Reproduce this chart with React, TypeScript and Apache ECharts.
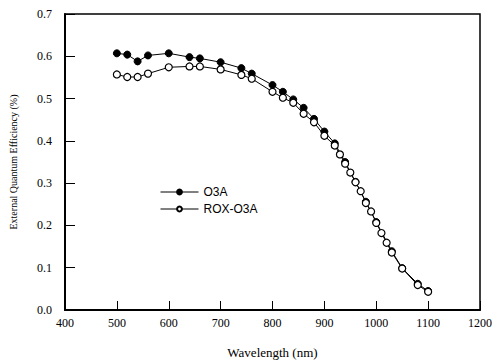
import React, { useEffect, useRef } from "react";
import * as echarts from "echarts";

const o3aX = [500, 520, 540, 560, 600, 640, 660, 700, 740, 760, 800, 820, 840, 860, 880, 900, 920, 940, 960, 980, 1000, 1030, 1050, 1080, 1100];
const o3aY = [0.607, 0.604, 0.588, 0.602, 0.607, 0.598, 0.595, 0.586, 0.572, 0.559, 0.532, 0.516, 0.498, 0.478, 0.452, 0.422, 0.394, 0.350, 0.303, 0.256, 0.208, 0.139, 0.099, 0.062, 0.045];

const roxX = [500, 520, 540, 560, 600, 640, 660, 700, 740, 760, 800, 820, 840, 860, 880, 900, 920, 930, 940, 950, 960, 970, 980, 990, 1000, 1010, 1020, 1030, 1050, 1080, 1100];
const roxY = [0.557, 0.551, 0.551, 0.559, 0.574, 0.576, 0.576, 0.569, 0.556, 0.547, 0.516, 0.502, 0.490, 0.464, 0.444, 0.412, 0.389, 0.368, 0.346, 0.325, 0.302, 0.281, 0.253, 0.233, 0.206, 0.182, 0.159, 0.136, 0.098, 0.059, 0.043];

const xMin = 400, xMax = 1200, xStep = 100;
const yMin = 0, yMax = 0.7, yStep = 0.1;

const xName = "Wavelength (nm)";
const yName = "External Quantum Efficiency (%)";
const seriesNames = ["O3A", "ROX-O3A"];

export default function App() {
  const ref = useRef<HTMLDivElement>(null);
  useEffect(() => {
    if (!ref.current) return;
    const chart = echarts.init(ref.current, undefined, { renderer: "svg" });
    const serif = "'Liberation Serif', 'Times New Roman', serif";
    const sans = "'Liberation Sans', Arial, sans-serif";
    chart.setOption({
      animation: false,
      backgroundColor: "#fff",
      grid: {
        left: 62, top: 14, width: 418, height: 297,
        show: true, borderColor: "#000", borderWidth: 1.5, backgroundColor: "transparent",
      },
      legend: {
        orient: "vertical",
        left: 155, top: 181,
        itemWidth: 38, itemHeight: 6, itemGap: 5,
        lineStyle: { width: 1 },
        textStyle: { fontFamily: sans, fontSize: 12, color: "#000" },
        data: seriesNames,
      },
      xAxis: {
        type: "value", min: xMin, max: xMax, interval: xStep,
        name: xName, nameLocation: "middle", nameGap: 36,
        nameTextStyle: { fontFamily: serif, fontSize: 13, color: "#000" },
        axisLine: { lineStyle: { color: "#000", width: 2 } },
        axisTick: { inside: true, length: 9, lineStyle: { color: "#000", width: 1 } },
        axisLabel: { fontFamily: serif, fontSize: 12, color: "#000", margin: 7, formatter: (v: number) => String(v) },
        splitLine: { show: false },
      },
      yAxis: {
        type: "value", min: yMin, max: yMax, interval: yStep,
        name: yName, nameLocation: "middle", nameGap: 47, nameRotate: 90,
        nameTextStyle: { fontFamily: serif, fontSize: 10, color: "#000" },
        axisLine: { show: true, lineStyle: { color: "#000", width: 2 } },
        axisTick: { inside: true, length: 10, lineStyle: { color: "#000", width: 1 } },
        axisLabel: { fontFamily: serif, fontSize: 12, color: "#000", margin: 13, formatter: (v: number) => v.toFixed(1) },
        splitLine: { show: false },
      },
      series: [
        {
          name: seriesNames[0], type: "line",
          data: o3aX.map((x, i) => [x, o3aY[i]]),
          symbol: "circle", symbolSize: 7,
          lineStyle: { color: "#000", width: 1 },
          itemStyle: { color: "#000", borderColor: "#000", borderWidth: 1 },
          z: 2,
        },
        {
          name: seriesNames[1], type: "line",
          data: roxX.map((x, i) => [x, roxY[i]]),
          symbol: "circle", symbolSize: 7,
          lineStyle: { color: "#000", width: 1 },
          itemStyle: { color: "#fff", borderColor: "#000", borderWidth: 1.2 },
          z: 3,
        },
      ],
    });
    return () => chart.dispose();
  }, []);
  return <div ref={ref} style={{ position: "absolute", left: 0, top: 0, width: 498, height: 364 }} />;
}
